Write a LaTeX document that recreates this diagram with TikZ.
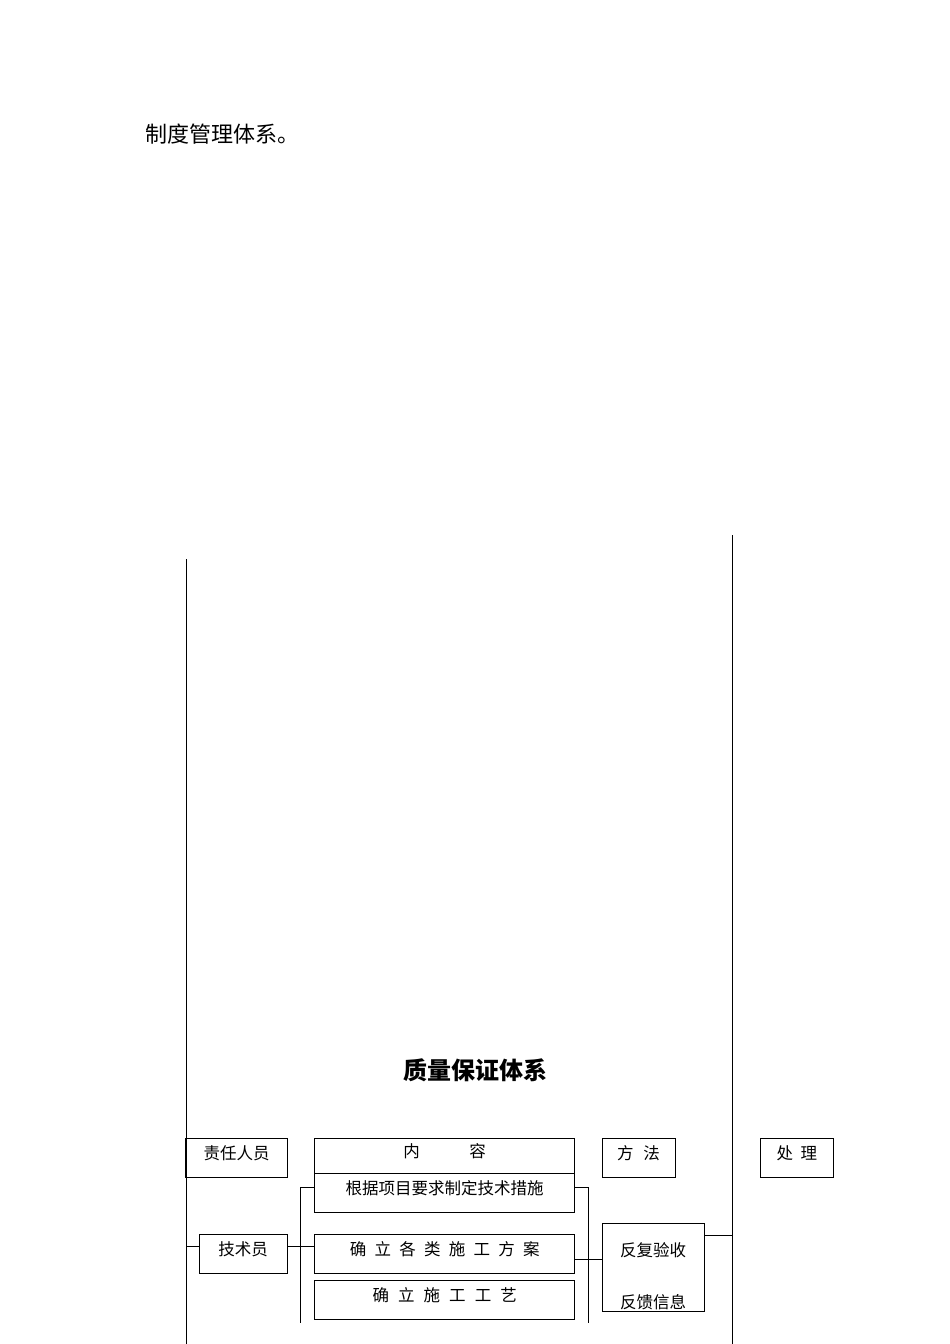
\documentclass[tikz,border=0pt]{standalone}
\usepackage{fontspec}
\setmainfont{Noto Sans CJK SC}
\usepackage{tikz}

\newcommand\gp[1]{\hspace{#1em}}

\begin{document}
\begin{tikzpicture}[x=1pt,y=-1pt,
	box/.style={shape=rectangle,draw=black,line width=0.8pt,inner sep=0pt,
		font=\fontsize{16.5}{18}\selectfont,text height=0.8em,text depth=0.5em},
	txt/.style={font=\fontsize{16.5}{18}\selectfont,inner sep=0pt}]
	\useasboundingbox (0,0) rectangle (950,1344);

	\node[anchor=west,font=\fontsize{22}{24}\selectfont,inner sep=0pt] (intro) at (145,134) {制度管理体系。};
	\node[font=\fontsize{24}{26}\selectfont\bfseries,inner sep=0pt] (title) at (475,1070) {质量保证体系};

	% boxes
	\node[box,minimum width=102pt,minimum height=39pt] (zrry) at (236.5,1157.5) {责任人员};
	\node[box,minimum width=260pt,minimum height=35pt] (nr)   at (444.7,1155.5) {内\gp{3}容};
	\node[box,minimum width=260pt,minimum height=39pt] (cs)   at (444.7,1192.5) {根据项目要求制定技术措施};
	\node[box,minimum width=73pt,minimum height=39pt]  (ff)   at (638.5,1157.5) {方\gp{.6}法};
	\node[box,minimum width=73pt,minimum height=39pt]  (cl)   at (796.8,1157.5) {处\gp{.45}理};
	\node[box,minimum width=88pt,minimum height=39pt]  (jsy)  at (243.2,1253.5) {技术员};
	\node[box,minimum width=260pt,minimum height=39pt] (fa)   at (444.7,1253.5) {确\gp{.5}立\gp{.5}各\gp{.5}类\gp{.5}施\gp{.5}工\gp{.5}方\gp{.5}案};
	\node[box,minimum width=260pt,minimum height=39pt] (gy)   at (444.7,1300.2) {确\gp{.55}立\gp{.55}施\gp{.55}工\gp{.55}工\gp{.55}艺};
	\node[box,minimum width=102pt,minimum height=88pt] (ys)   at (653,1267.7) {};
	\node[txt] (ys1) at (653,1250) {反复验收};
	\node[txt] (ys2) at (653,1302) {反馈信息};

	% lines
	\coordinate (lt) at (186,559);
	\coordinate (lb) at (186,1344);
	\coordinate (rt) at (732,535);
	\coordinate (rb) at (732,1344);
	\coordinate (lj) at (186,1246.7);
	\coordinate (bl1) at (300.8,1187);
	\coordinate (bl2) at (300.8,1323);
	\coordinate (br1) at (588,1187);
	\coordinate (br2) at (588,1323);
	\coordinate (fy) at (588,1259.3);
	\coordinate (yr) at (732,1235);

	\draw[line width=0.8pt] (lt) -- (lb);
	\draw[line width=0.8pt] (rt) -- (rb);
	\draw[line width=0.8pt] (lj) -- (lj -| jsy.west);
	\draw[line width=0.8pt] (bl1 -| cs.west) -- (bl1) -- (bl2);
	\draw[line width=0.8pt] (lj -| jsy.east) -- (lj -| fa.west);
	\draw[line width=0.8pt] (br1 -| cs.east) -- (br1) -- (br2);
	\draw[line width=0.8pt] (fy -| fa.east) -- (fy -| ys.west);
	\draw[line width=0.8pt] (yr -| ys.east) -- (yr);
\end{tikzpicture}
\end{document}
